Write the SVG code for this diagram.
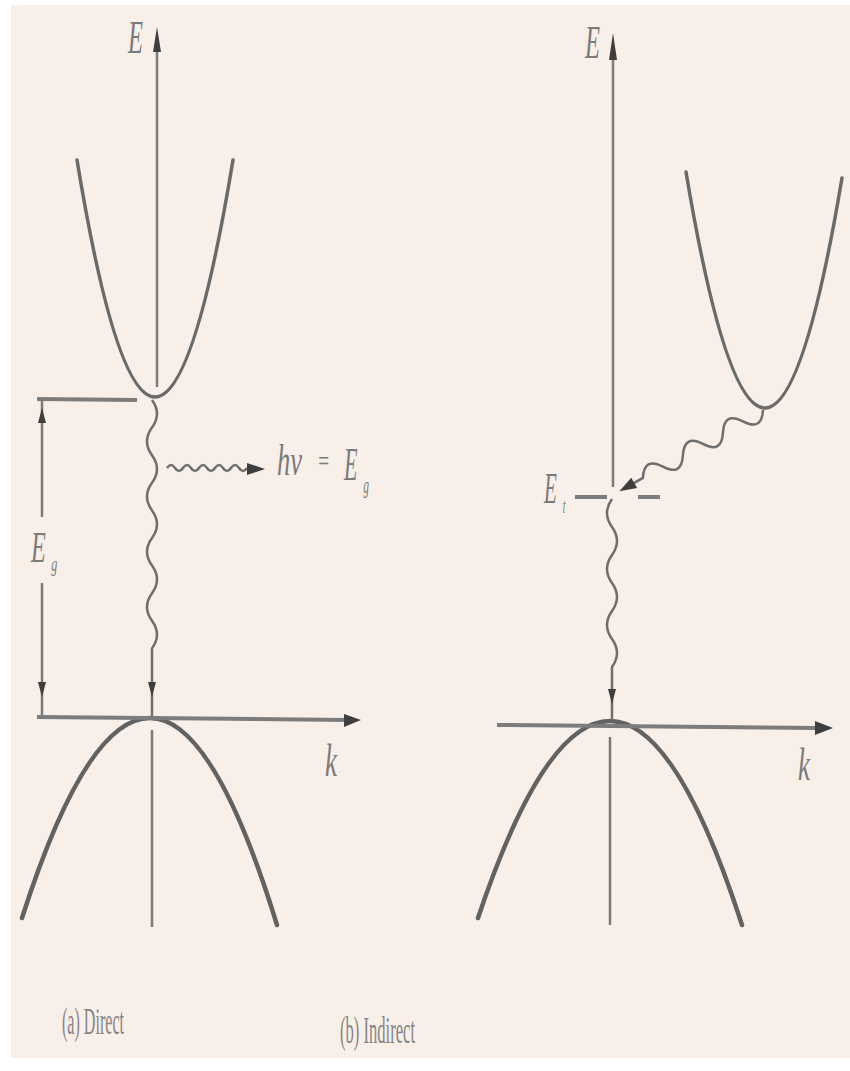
<svg xmlns="http://www.w3.org/2000/svg" width="850" height="1071" viewBox="0 0 850 1071">
<style>
.band{fill:none;stroke:#6a6a6a;stroke-width:3.5;stroke-linecap:round}
.vb{fill:none;stroke:#626262;stroke-width:4.5;stroke-linecap:round}
.ax{fill:none;stroke:#7a7a7a;stroke-width:2.5}
.axh{fill:none;stroke:#7c7c7c;stroke-width:4}
.wave{fill:none;stroke:#6e6e6e;stroke-width:2.5}
.ah{fill:#3e3e3e}
.lbl{font-family:"Liberation Serif",serif;font-style:italic;fill:#7a7a7a}
.cap{font-family:"Liberation Serif",serif;fill:#858585}
</style>
<rect x="0" y="0" width="850" height="1071" fill="#ffffff"/>
<rect x="11" y="5" width="839" height="1053" fill="#f8efe9"/>

<g id="panel-a">
  <g id="bands-a">
    <path class="band" d="M77,160 Q116,397 155,397 Q194,397 233,160"/>
    <path class="vb" d="M22,918 Q86,718 150,718 Q213.5,718 277,925"/>
  </g>
  <g id="axes-a">
    <line class="ax" x1="157" y1="40" x2="157" y2="387"/>
    <polygon class="ah" points="157,27 153,52 161,52"/>
    <line class="ax" x1="152" y1="730" x2="152" y2="927"/>
    <line class="axh" x1="37" y1="717" x2="348" y2="720"/>
    <polygon class="ah" points="361,720 344,714 344,727"/>
  </g>
  <g id="eg-bracket">
    <line class="axh" x1="37" y1="399" x2="137" y2="400"/>
    <line class="ax" x1="42" y1="400" x2="42" y2="517"/>
    <line class="ax" x1="42" y1="583" x2="42" y2="716"/>
    <polygon class="ah" points="42,408 38,423 46,423"/>
    <polygon class="ah" points="42,697 38,682 46,682"/>
  </g>
  <g id="labels-a">
    <text class="lbl" x="128" y="53" font-size="46" textLength="15" lengthAdjust="spacingAndGlyphs">E</text>
    <text class="lbl" transform="translate(31,562) scale(0.55,1)" font-size="44">E<tspan font-size="22" dx="10" dy="9">g</tspan></text>
    <text class="lbl" x="277" y="475" font-size="44" textLength="25" lengthAdjust="spacingAndGlyphs">hv</text>
    <text class="lbl" x="317" y="471" font-size="30" textLength="13" lengthAdjust="spacingAndGlyphs" font-style="normal">=</text>
    <text class="lbl" transform="translate(344,480) scale(0.48,1)" font-size="46">E<tspan font-size="24" dx="12" dy="13">g</tspan></text>
    <text class="lbl" x="325" y="776" font-size="46" textLength="12" lengthAdjust="spacingAndGlyphs">k</text>
  </g>
  <text class="cap" x="62" y="1034" font-size="38" textLength="62" lengthAdjust="spacingAndGlyphs">(a) Direct</text>
</g>

<g id="panel-b">
  <g id="bands-b">
    <path class="band" d="M686,172 Q725.5,408 765,408 Q803.5,408 842,178"/>
    <path class="vb" d="M478,918 Q544,721 610,721 Q676,721 742,925"/>
  </g>
  <g id="axes-b">
    <line class="ax" x1="613" y1="45" x2="613" y2="487"/>
    <polygon class="ah" points="613,33 609,60 617,60"/>
    <line class="ax" x1="610" y1="737" x2="610" y2="925"/>
    <line class="axh" x1="497" y1="725" x2="818" y2="728"/>
    <polygon class="ah" points="833,728 815,721 815,735"/>
  </g>
  <g id="trap-level">
    <line class="axh" x1="575" y1="497" x2="607" y2="497"/>
    <line class="axh" x1="638" y1="497" x2="660" y2="497"/>
  </g>
  <g id="labels-b">
    <text class="lbl" x="585" y="58" font-size="46" textLength="15" lengthAdjust="spacingAndGlyphs">E</text>
    <text class="lbl" transform="translate(544,503) scale(0.48,1)" font-size="44">E<tspan font-size="20" dx="12" dy="10">t</tspan></text>
    <text class="lbl" x="798" y="780" font-size="46" textLength="12" lengthAdjust="spacingAndGlyphs">k</text>
  </g>
  <text class="cap" x="340" y="1043" font-size="38" textLength="75" lengthAdjust="spacingAndGlyphs">(b) Indirect</text>
</g>

<g id="connectors">
  <path id="recomb-a" class="wave" d="M152,400 q10,13.8 0,27.6 t0,27.6 t0,27.6 t0,27.6 t0,27.6 t0,27.6 t0,27.6 t0,27.6 t0,27.6 L152,716"/>
  <polygon class="ah" points="152,697 148,682 156,682"/>
  <path id="photon-a" class="wave" d="M167,468 q4,-6 8,0 t8,0 t8,0 t8,0 t8,0 t8,0 t8,0 t8,0 t8,0 t8,0"/>
  <polygon class="ah" points="265,469 247,463 247,475"/>
  <g id="phonon-b" transform="translate(763,410) rotate(150.5)">
    <path class="wave" d="M0,0 q11.5,-18 23,0 t23,0 t23,0 t23,0 t23,0 t23,0 L150,0"/>
    <polygon class="ah" points="165,0 148,-6 148,6"/>
  </g>
  <path id="recomb-b" class="wave" d="M612,499 q-10,14 0,28 t0,28 t0,28 t0,28 t0,28 t0,28 L612,720"/>
  <polygon class="ah" points="612,704 608,689 616,689"/>
</g>
</svg>
